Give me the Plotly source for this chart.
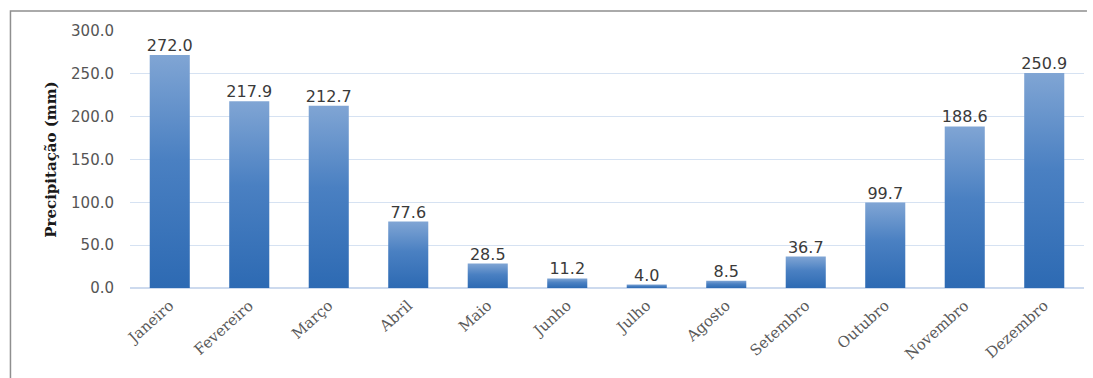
import plotly.graph_objects as go

# Monthly rainfall (mm)
months = ["Janeiro", "Fevereiro", "Março", "Abril", "Maio", "Junho",
          "Julho", "Agosto", "Setembro", "Outubro", "Novembro", "Dezembro"]
rain_mm = [272.0, 217.9, 212.7, 77.6, 28.5, 11.2, 4.0, 8.5, 36.7, 99.7, 188.6, 250.9]
y_ticks = [0, 50, 100, 150, 200, 250, 300]

HALF_W = 0.252
BAR_SCALE = [[0.0, "#2d6ab3"], [0.55, "#4a80c2"], [1.0, "#80a5d4"]]

fig = go.Figure()

# Each column is a filled rectangle so it can carry a vertical gradient
for i, v in enumerate(rain_mm):
    fig.add_trace(go.Scatter(
        x=[i - HALF_W, i - HALF_W, i + HALF_W, i + HALF_W, i - HALF_W],
        y=[0, v, v, 0, 0],
        mode="lines",
        line=dict(width=0, color="rgba(0,0,0,0)"),
        fill="toself",
        fillgradient=dict(type="vertical", colorscale=BAR_SCALE),
        hoverinfo="skip",
        showlegend=False,
    ))

# Value labels above the columns
fig.add_trace(go.Scatter(
    x=list(range(len(months))),
    y=rain_mm,
    mode="text",
    text=[f"{v:.1f}" for v in rain_mm],
    textposition="top center",
    textfont=dict(family="DejaVu Sans", size=16, color="#3a3a3a"),
    hoverinfo="skip",
    showlegend=False,
))

# Outer frame (left and top edges)
fig.add_shape(
    type="path", xref="paper", yref="paper",
    path="M -0.1253 -0.5 L -0.1253 1.0778 L 1.0031 1.0778",
    line=dict(color="#8f8f8f", width=1.5),
)

fig.update_layout(
    width=1093, height=378,
    margin=dict(l=130, r=9, t=31, b=90),
    paper_bgcolor="white",
    plot_bgcolor="white",
    xaxis=dict(
        range=[-0.5, len(months) - 0.5],
        tickmode="array",
        tickvals=list(range(len(months))),
        ticktext=months,
        tickangle=-42,
        tickfont=dict(family="DejaVu Serif", size=15, color="#5a5a5a"),
        showgrid=False,
        zeroline=False,
        showline=False,
        ticks="outside",
        ticklen=2,
        tickcolor="rgba(0,0,0,0)",
        fixedrange=True,
    ),
    yaxis=dict(
        range=[0, 300],
        tickmode="array",
        tickvals=y_ticks,
        ticktext=[f"{t:.1f}" for t in y_ticks],
        tickfont=dict(family="DejaVu Sans", size=15, color="#555555"),
        showgrid=True,
        gridcolor="#d6e2f2",
        gridwidth=1,
        zeroline=True,
        zerolinecolor="#cddaee",
        zerolinewidth=1.5,
        ticks="outside",
        ticklen=12,
        tickcolor="rgba(0,0,0,0)",
        title=dict(
            text="Precipitação (mm)",
            font=dict(family="DejaVu Serif", size=15, color="#1a1a1a", weight="bold"),
            standoff=10,
        ),
        fixedrange=True,
    ),
)

fig.write_html("out.html")
